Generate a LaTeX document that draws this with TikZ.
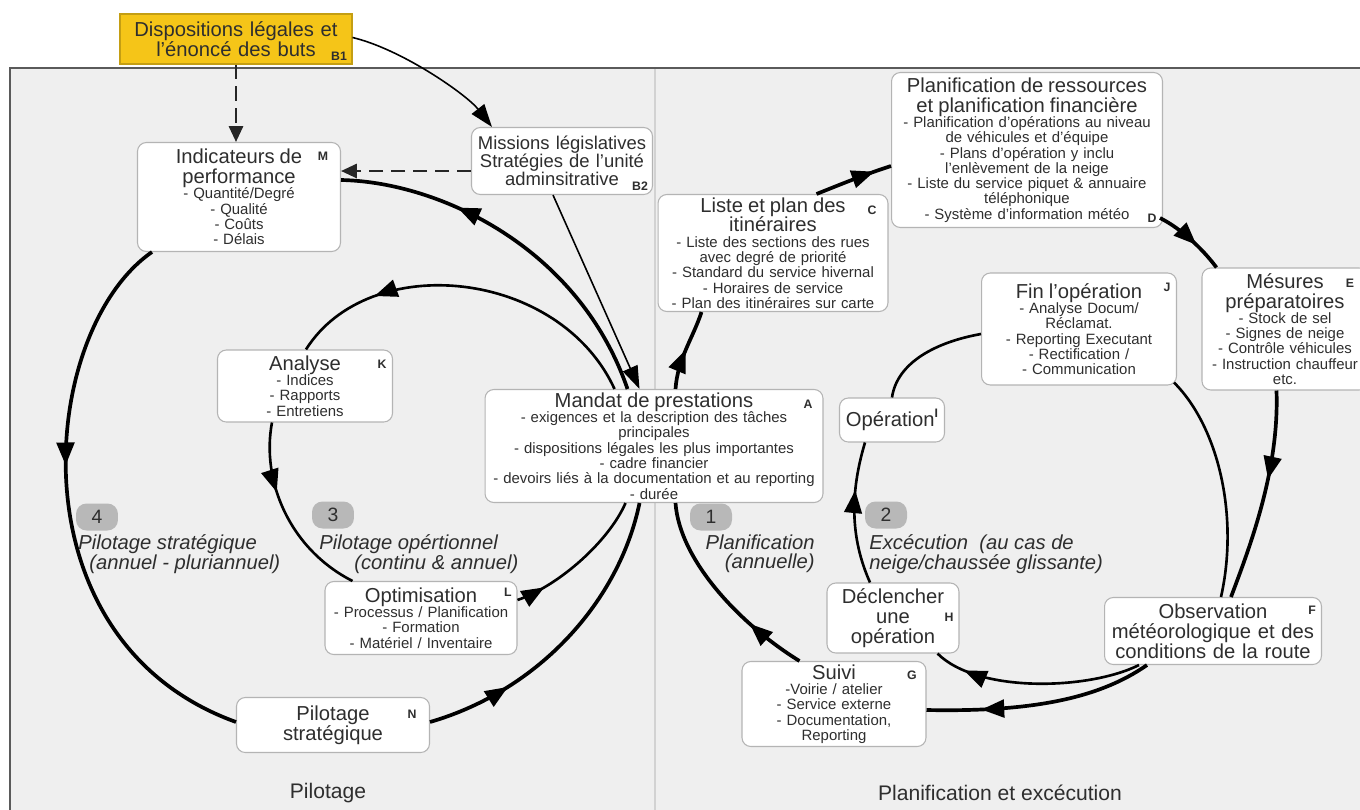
\documentclass[tikz,border=0pt]{standalone}
\usepackage{fontspec}
\setmainfont{Liberation Sans}
\usepackage{tikz}
\usetikzlibrary{arrows.meta,calc,decorations.markings,positioning}
\usepackage{xcolor}

\definecolor{panelgray}{HTML}{EFEFEF}
\definecolor{framegray}{HTML}{5A5A5A}
\definecolor{boxline}{HTML}{B4B4B4}
\definecolor{goal}{HTML}{F5C518}
\definecolor{badgegray}{HTML}{B8B8B8}
\definecolor{txt}{HTML}{2E2E2E}

\newcommand{\ttl}{\fontsize{11.5}{11.3}\selectfont}
\newcommand{\itm}{\fontsize{8.5}{8.7}\selectfont}
\newcommand{\tg}{\fontsize{7}{8}\selectfont\bfseries}

\begin{document}
\begin{tikzpicture}[x=0.02cm, y=-0.02cm,
    box/.style={draw=boxline, fill=white, rounded corners=5pt, line width=0.6pt, align=center, inner sep=1pt, text=txt, font=\itm},
    tag/.style={font=\tg, text=txt, inner sep=0pt},
    badge/.style={fill=badgegray, rounded corners=6pt, minimum width=0.84cm, minimum height=0.54cm, inner sep=0pt, font=\fontsize{11}{12}\selectfont, text=txt},
    phase/.style={font=\fontsize{11.5}{11.3}\selectfont\itshape, text=txt, inner sep=0pt},
    cyc/.style={line width=2.1pt},
    cycin/.style={line width=1.5pt},
    midarrow/.style={postaction={decorate}, decoration={markings, mark=at position #1 with {\arrow{Triangle[length=13pt,width=10pt]}}}},
    dasharrow/.style={draw=black!85, line width=1.4pt, dash pattern=on 8pt off 4.5pt, -{Triangle[length=9pt,width=8pt]}},
    thinarrow/.style={line width=0.9pt, -{Triangle[length=13pt,width=9pt]}}
]

\useasboundingbox (0,0) rectangle (1360,809);

% background panels
\fill[panelgray] (10,68) rectangle (1362,811);
\draw[gray!35, line width=0.6pt] (655,68) -- (655,811);
\draw[framegray, line width=1.3pt] (10,811) -- (10,68) -- (1362,68);

% boxes
\node[box, fill=goal, draw=goal!80!black, rounded corners=0pt, minimum width=4.64cm, minimum height=1cm, text width=4.5cm, font=\ttl] (B1) at (236,39) {Dispositions légales et\\l’énoncé des buts};
\node[box, minimum width=4.06cm, minimum height=2.18cm, text width=3.9cm] (M) at (239,197) {{\ttl Indicateurs de\\performance\par}- Quantité/Degré\\- Qualité\\- Coûts\\- Délais};
\node[box, minimum width=3.62cm, minimum height=1.34cm, text width=3.5cm, font=\fontsize{10.5}{10.3}\selectfont] (B2) at (562,161) {Missions législatives\\Stratégies de l’unité\\adminsitrative};
\node[box, minimum width=4.6cm, minimum height=2.34cm, text width=4.45cm] (C) at (773,253) {{\ttl Liste et plan des\\itinéraires\par}- Liste des sections des rues\\avec degré de priorité\\- Standard du service hivernal\\- Horaires de service\\- Plan des itinéraires sur carte};
\node[box, minimum width=5.42cm, minimum height=3.1cm, text width=5.3cm] (D) at (1027,150) {{\ttl Planification de ressources\\et planification financière\par}- Planification d’opérations au niveau\\de véhicules et d’équipe\\- Plans d’opération y inclu\\l’enlèvement de la neige\\- Liste du service piquet \& annuaire\\téléphonique\\- Système d’information météo};
\node[box, minimum width=3.32cm, minimum height=2.44cm, text width=3.2cm] (E) at (1285,329) {{\ttl Mésures\\préparatoires\par}- Stock de sel\\- Signes de neige\\- Contrôle véhicules\\- Instruction chauffeur\\etc.};
\node[box, minimum width=3.9cm, minimum height=2.24cm, text width=3.8cm] (J) at (1079,329) {{\ttl Fin l’opération\par}- Analyse Docum/\\Réclamat.\\- Reporting Executant\\- Rectification /\\- Communication};
\node[box, minimum width=6.76cm, minimum height=2.26cm, text width=6.68cm] (A) at (654,446) {{\ttl Mandat de prestations\par}- exigences et la description des tâches\\principales\\- dispositions légales les plus importantes\\- cadre financier\\- devoirs liés à la documentation et au reporting\\- durée};
\node[box, minimum width=3.5cm, minimum height=1.44cm, text width=3.4cm] (K) at (305,386) {{\ttl Analyse\par}- Indices\\- Rapports\\- Entretiens};
\node[box, minimum width=2.1cm, minimum height=0.88cm, text width=2cm, font=\ttl] (I) at (892,420) {Opération\raisebox{5pt}{\tg I}};
\node[box, minimum width=3.84cm, minimum height=1.46cm, text width=3.75cm] (L) at (421,618) {{\ttl Optimisation\par}- Processus / Planification\\- Formation\\- Matériel / Inventaire};
\node[box, minimum width=3.86cm, minimum height=1.1cm, text width=3.75cm, font=\ttl] (N) at (333,725) {Pilotage\\stratégique};
\node[box, minimum width=2.64cm, minimum height=1.4cm, text width=2.5cm, font=\ttl] (H) at (893,618) {Déclencher\\une\\opération};
\node[box, minimum width=3.68cm, minimum height=1.7cm, text width=3.55cm] (G) at (834,704) {{\ttl Suivi\par}-Voirie / atelier\\- Service externe\\- Documentation,\\Reporting};
\node[box, minimum width=4.34cm, minimum height=1.34cm, text width=4.25cm, font=\ttl] (F) at (1213,631) {Observation\\météorologique et des\\conditions de la route};

% letters
\node[tag] (tB1) at (339,56) {B1};
\node[tag] (tM) at (323,156) {M};
\node[tag] (tB2) at (640,186) {B2};
\node[tag] (tC) at (872,210) {C};
\node[tag] (tD) at (1152,218) {D};
\node[tag] (tE) at (1350,283) {E};
\node[tag] (tJ) at (1167,287) {J};
\node[tag] (tA) at (808,404) {A};
\node[tag] (tK) at (382,364) {K};
\node[tag] (tL) at (508,592) {L};
\node[tag] (tN) at (412,714) {N};
\node[tag] (tH) at (949,617) {H};
\node[tag] (tG) at (912,675) {G};
\node[tag] (tF) at (1312,610) {F};

% phases
\node[badge] (n4) at (97,517) {4};
\node[badge] (n3) at (333,515) {3};
\node[badge] (n1) at (711,517) {1};
\node[badge] (n2) at (886,515) {2};
\node[phase, anchor=north west, align=left] (p4) at (78,534) {Pilotage stratégique\\\hspace*{0.22cm}(annuel - pluriannuel)};
\node[phase, anchor=north west, align=left] (p3) at (319,534) {Pilotage opértionnel\\\hspace*{0.7cm}(continu \& annuel)};
\node[phase, anchor=north east, align=right] (p1) at (815,534) {Planification\\(annuelle)};
\node[phase, anchor=north west, align=left] (p2) at (869,534) {Excécution\ \ (au cas de\\neige/chaussée glissante)};

\node[font=\fontsize{12}{12}\selectfont, text=txt] (leftpart) at (328,793) {Pilotage};
\node[font=\fontsize{12}{12}\selectfont, text=txt] (rightpart) at (1000,793) {Planification et excécution};

% goals
\draw[dasharrow] (B1.south) -- (B1.south |- M.north);
\draw[thinarrow] ($(B1.north east)+(0,24)$) .. controls +(50,12) and +(-25,-32) .. ($(B2.north west)+(21,0)$);
\coordinate (b2w) at ($(B2.west)+(0,10)$);
\draw[dasharrow] (b2w) -- (b2w -| M.east);
\draw[thinarrow] ($(B2.south)+(-9,0)$) -- ($(A.north west)+(155,0)$);

% cycle 4
\draw[cyc, midarrow=0.68] ($(A.north west)+(143,0)$) .. controls +(-48,-140) and +(100,2) .. ($(M.east)+(0,-17)$);
\draw[cyc, midarrow=0.42] ($(M.south west)+(15,0)$) .. controls +(-113,78) and +(-227,-82) .. ($(N.west)+(0,-3)$);
\draw[cyc, midarrow=0.27] ($(N.east)+(0,-3)$) .. controls +(110,-32) and +(-20,97) .. ($(A.south west)+(155,0)$);

% cycle 3
\draw[cycin, midarrow=0.76] ($(A.north west)+(130,0)$) .. controls +(-55,-120) and +(63,-100) .. ($(K.north)+(1,0)$);
\draw[cycin, midarrow=0.37] ($(K.south west)+(55,0)$) .. controls +(-11,58) and +(-63,-32) .. ($(L.north west)+(28,0)$);
\draw[cycin, midarrow=0.2] ($(L.east)+(0,-18)$) .. controls +(43,-15) and +(-16,37) .. ($(A.south west)+(141,0)$);

% cycle 1
\draw[cyc, midarrow=0.5] ($(A.north west)+(191,0)$) .. controls +(2,-30) and +(-8,25) .. ($(C.south west)+(44,0)$);
\draw[cyc, midarrow=0.78] ($(C.north west)+(159,0)$) .. controls +(25,-10) and +(-25,8) .. ($(D.west)+(0,16)$);
\draw[cyc, midarrow=0.6] ($(D.south east)+(-3,-10)$) .. controls +(20,10) and +(-15,-20) .. ($(E.north west)+(15,0)$);
\draw[cyc, midarrow=0.42] ($(E.south west)+(75,0)$) .. controls +(3,80) and +(18,-48) .. ($(F.north west)+(127,0)$);
\draw[cyc, midarrow=0.76] ($(F.south west)+(43,0)$) .. controls +(-50,35) and +(100,2) .. ($(G.east)+(0,6)$);
\draw[cyc, midarrow=0.3] ($(G.north west)+(58,0)$) .. controls +(-60,-37) and +(4,57) .. ($(A.south west)+(191,0)$);

% cycle 2
\draw[cycin, midarrow=0.85] ($(F.south west)+(35,0)$) .. controls +(-50,25) and +(40,40) .. ($(H.south east)+(-22,0)$);
\draw[cycin, midarrow=0.66] ($(H.north)+(-23,0)$) .. controls +(-20,-45) and +(-15,50) .. ($(I.south)+(-27,0)$);
\draw[cycin] (I.north) .. controls +(5,-35) and +(-45,8) .. ($(J.west)+(0,5)$);
\draw[cycin] ($(J.south east)+(-3,-3)$) .. controls +(45,45) and +(18,-80) .. ($(F.north west)+(117,0)$);

\end{tikzpicture}
\end{document}
